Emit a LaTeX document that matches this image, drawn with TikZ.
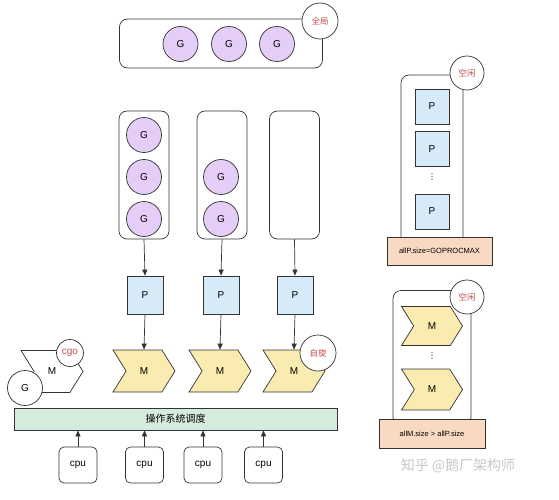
\documentclass[tikz,border=0pt]{standalone}
\usepackage{fontspec}
\setmainfont{Liberation Sans}
\newfontfamily\cjk{Noto Sans CJK SC}
\newfontfamily\symfont{DejaVu Sans}
\usetikzlibrary{arrows.meta, positioning, shapes.symbols}
\definecolor{gfill}{HTML}{E4CDF6}
\definecolor{pfill}{HTML}{D6EAF8}
\definecolor{mfill}{HTML}{FAEBB0}
\definecolor{osfill}{HTML}{D5EBDC}
\definecolor{sizefill}{HTML}{F9D9C2}
\definecolor{tagred}{HTML}{C0504D}
\definecolor{edge}{HTML}{333333}
\newcommand{\lbl}{\fontsize{10}{12}\selectfont}

\begin{document}
\begin{tikzpicture}[x=1pt, y=-1pt, line width=0.7pt,
    gnode/.style={circle, draw=edge, fill=gfill, minimum size=35pt, inner sep=0pt, font=\lbl},
    pnode/.style={rectangle, draw=edge, fill=pfill, minimum width=36pt, minimum height=38pt, font=\lbl},
    mnode/.style={signal, signal from=west, signal to=east, signal pointer angle=116, draw=edge, fill=mfill, minimum width=62pt, minimum height=42pt, inner sep=0pt, font=\lbl},
    queue/.style={rectangle, rounded corners=8pt, draw=edge, fill=white},
    tag/.style={circle, draw=edge, fill=white, minimum size=36pt, inner sep=0pt, text=tagred, font=\cjk\fontsize{8.5}{10}\selectfont},
    sizebox/.style={rectangle, draw=edge, fill=sizefill, font=\fontsize{7.5}{9}\selectfont},
    cpubox/.style={rectangle, rounded corners=5pt, draw=edge, minimum width=38pt, minimum height=36pt, font=\lbl},
    dots/.style={inner sep=0pt, font=\symfont\fontsize{8}{8}\selectfont},
    link/.style={-{Triangle[length=6pt, width=5pt]}, draw=edge}
]
\useasboundingbox (0,0) rectangle (559,500);

% global run queue
\node[queue, minimum width=203pt, minimum height=49pt] (global) at (221,43.5) {};
\node[gnode] (gg1) at (180.5,44) {G};
\node[gnode] (gg2) at (229,44) {G};
\node[gnode] (gg3) at (277,44) {G};
\node[tag] (globaltag) at (320,21) {全局};

% local run queues
\node[queue, minimum width=50pt, minimum height=128pt] (q1) at (144,175) {};
\node[queue, minimum width=50pt, minimum height=128pt] (q2) at (222,175) {};
\node[queue, minimum width=50pt, minimum height=128pt] (q3) at (294.5,175) {};
\node[gnode] (g11) at (144,135) {G};
\node[gnode] (g12) at (144,177) {G};
\node[gnode] (g13) at (144,219) {G};
\node[gnode] (g21) at (221,177) {G};
\node[gnode] (g22) at (221,219) {G};

% P and M
\node[pnode] (p1) at (145,295) {P};
\node[pnode] (p2) at (221,295) {P};
\node[pnode] (p3) at (295,295) {P};
\node[mnode] (m1) at (144,371) {M};
\node[mnode] (m2) at (220,371) {M};
\node[mnode] (m3) at (294,371) {M};
\node[tag] (spintag) at (318,353) {自旋};

\foreach \i in {1,2,3} {
  \draw[link] (q\i.south) -- (p\i.north);
  \draw[link] (p\i.south) -- (m\i.north);
}

% cgo
\node[mnode, fill=white] (m0) at (52,371.5) {M};
\node[tag, minimum size=27pt, font=\lbl] (cgotag) at (70,353) {cgo};
\node[gnode, fill=white] (g0) at (25,388) {G};

% os scheduler and cpus
\node[rectangle, draw=edge, fill=osfill, minimum width=323pt, minimum height=22pt, font=\cjk\fontsize{10}{12}\selectfont] (os) at (175.5,419) {操作系统调度};
\node[cpubox] (c1) at (78,465) {cpu};
\node[cpubox] (c2) at (144.5,465) {cpu};
\node[cpubox] (c3) at (203,465) {cpu};
\node[cpubox] (c4) at (263.5,465) {cpu};
\foreach \i in {1,...,4}
  \draw[link] (c\i.north) -- (c\i.north |- os.south);

% idle P list
\node[queue, minimum width=62pt, minimum height=170pt] (idlep) at (432,160) {};
\node[pnode, minimum width=34pt, minimum height=35pt] (ip1) at (432,106.5) {P};
\node[pnode, minimum width=34pt, minimum height=35pt] (ip2) at (432,149) {P};
\node[dots] (pdots) at (432,177) {⋮};
\node[pnode, minimum width=34pt, minimum height=35pt] (ip3) at (432,211.5) {P};
\node[sizebox, minimum width=105pt, minimum height=28pt] (psize) at (439.5,251) {allP.size=GOPROCMAX};
\node[tag, minimum size=34pt] (idleptag) at (467,73) {空闲};

% idle M list
\node[queue, minimum width=78pt, minimum height=135pt] (idlem) at (432,358) {};
\node[mnode, minimum width=61pt, minimum height=39pt] (im1) at (432,326) {M};
\node[dots] (mdots) at (432,356) {⋮};
\node[mnode, minimum width=61pt, minimum height=41pt] (im2) at (432,389.5) {M};
\node[sizebox, minimum width=106pt, minimum height=29pt] (msize) at (432,433.5) {allM.size > allP.size};
\node[tag, minimum size=34pt] (idlemtag) at (467,297) {空闲};

% watermark
\node[text=black!22, font=\cjk\fontsize{14}{16}\selectfont] (mark) at (458,466) {知乎 @鹅厂架构师};
\end{tikzpicture}
\end{document}
